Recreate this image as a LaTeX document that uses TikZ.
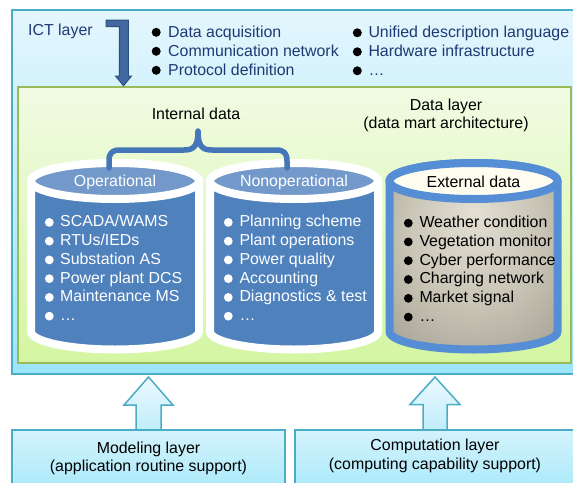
\documentclass[tikz,border=0pt]{standalone}
\usepackage{fontspec}
\setmainfont{Liberation Sans}
\definecolor{ictline}{HTML}{4BACC6}
\definecolor{icttop}{HTML}{E4F6FD}
\definecolor{ictbot}{HTML}{9BE5FA}
\definecolor{datatop}{HTML}{F1FBE4}
\definecolor{databot}{HTML}{D4F6A2}
\definecolor{dataline}{HTML}{9BBB59}
\definecolor{ictnavy}{HTML}{1F3A73}
\definecolor{cylbody}{HTML}{4F81BD}
\definecolor{cyltop}{HTML}{7399CB}
\definecolor{extline}{HTML}{558ED5}
\definecolor{exttop}{HTML}{FFFDF0}
\definecolor{extin}{HTML}{E3DFD3}
\definecolor{extmid}{HTML}{C8C4B6}
\definecolor{extout}{HTML}{8C887B}
\definecolor{bentfill}{HTML}{4169A0}
\definecolor{bentline}{HTML}{2B4F83}
\definecolor{bracecol}{HTML}{4577B8}
\definecolor{boxtop}{HTML}{D3F3FC}
\definecolor{boxbot}{HTML}{A9E9FA}
\definecolor{arrtop}{HTML}{ECF9FE}
\definecolor{arrbot}{HTML}{C0EDFB}
\pgfdeclareradialshading{extshade}{\pgfpoint{0bp}{12bp}}{color(0bp)=(extin); color(20bp)=(extmid); color(50bp)=(extout)}
\begin{document}
\begin{tikzpicture}[x=1pt,y=-1pt]
\tikzset{
  txt/.style={inner sep=0pt, font=\fontsize{15.9}{19}\selectfont},
  ictitem/.style={txt, anchor=base west, text=ictnavy},
  whiteitem/.style={txt, anchor=base west, text=white},
  blackitem/.style={txt, anchor=base west, text=black},
  lbl/.style={txt, anchor=base},
  layerbox/.style={draw=ictline, line width=1.5pt, top color=boxtop, bottom color=boxbot},
  uparrow/.style={draw=ictline, line width=1.5pt, top color=arrtop, bottom color=arrbot, line join=miter},
  cylline/.style={line width=8pt},
}
\useasboundingbox (0,0) rectangle (573,482);
\begin{scope}
\clip (0,0) rectangle (573,482);
% ICT layer
\path[draw=ictline, line width=2pt, top color=icttop, bottom color=ictbot] (12,10) rectangle (590,374);
% Data layer
\path[draw=dataline, line width=2.5pt, top color=datatop, bottom color=databot] (18,87) rectangle (571,363);
% bent arrow
\filldraw[fill=bentfill, draw=bentline, line width=1pt, line join=miter]
  (106,20) -- (128.3,20) -- (128.3,76) -- (131.5,76) -- (123.5,85.7) -- (115.5,76) -- (119.3,76) -- (119.3,26.7) -- (106,26.7) -- cycle;
\node[txt, anchor=base west, text=ictnavy] (ict) at (28,35) {ICT layer};
\foreach \t [count=\i] in {Data acquisition, Communication network, Protocol definition}{
  \pgfmathsetmacro\yy{37+19*(\i-1)}
  \fill[black] (156.2,\yy-4.7) circle (4.5pt);
  \node[ictitem] (icta\i) at (168,\yy) {\t};
}
\foreach \t [count=\i] in {Unified description language, Hardware infrastructure, …}{
  \pgfmathsetmacro\yy{37.5+19*(\i-1)}
  \fill[black] (357.3,\yy-4.7) circle (4.5pt);
  \node[ictitem] (ictb\i) at (368.3,\yy) {\t};
}
% Data layer labels
\node[lbl] (internal) at (196,119) {Internal data};
\node[lbl] (dlayer) at (446,110.7) {Data layer};
\node[lbl] (dmart) at (446,128.3) {(data mart architecture)};
% Operational cylinder
\path[draw=white, cylline, fill=cylbody] (31,181) -- (31,331.5) arc[start angle=180, end angle=360, x radius=84pt, y radius=18pt] -- (199,181) arc[start angle=0, end angle=180, x radius=84pt, y radius=18pt] -- cycle;
\path[draw=white, cylline, fill=cyltop] (115,181) ellipse [x radius=84pt, y radius=18pt];
% Nonoperational cylinder
\path[draw=white, cylline, fill=cylbody] (210,181) -- (210,331.5) arc[start angle=180, end angle=360, x radius=84pt, y radius=18pt] -- (378,181) arc[start angle=0, end angle=180, x radius=84pt, y radius=18pt] -- cycle;
\path[draw=white, cylline, fill=cyltop] (294,181) ellipse [x radius=84pt, y radius=18pt];
% External cylinder
\path[draw=extline, cylline, shading=extshade] (389.5,181) -- (389.5,331.5) arc[start angle=180, end angle=360, x radius=84pt, y radius=18pt] -- (557.5,181) arc[start angle=0, end angle=180, x radius=84pt, y radius=18pt] -- cycle;
\path[draw=extline, cylline, fill=exttop] (473.5,181) ellipse [x radius=84pt, y radius=18pt];
% brace
\draw[bracecol, line width=5.5pt, line cap=round, line join=round]
  (109,168) -- (109,161) .. controls (109,153) and (112,150) .. (120,150) -- (184,150)
  .. controls (194,150) and (198,146) .. (198,131)
  .. controls (198,146) and (202,150) .. (212,150) -- (276,150)
  .. controls (284,150) and (287,153) .. (287,161) -- (287,168);
% cylinder labels
\node[lbl, text=white] (opl) at (115,186.5) {Operational};
\node[lbl, text=white] (nopl) at (294,186.5) {Nonoperational};
\node[lbl, text=black] (extl) at (473.5,187) {External data};
% lists
\foreach \t [count=\i] in {SCADA/WAMS, RTUs/IEDs, Substation AS, Power plant DCS, Maintenance MS, …}{
  \pgfmathsetmacro\yy{226.8+18.75*(\i-1)}
  \fill[white] (49.3,\yy-4.4) circle (4.4pt);
  \node[whiteitem] (op\i) at (60,\yy) {\t};
}
\foreach \t [count=\i] in {Planning scheme, Plant operations, Power quality, Accounting, Diagnostics \& test, …}{
  \pgfmathsetmacro\yy{226.8+18.75*(\i-1)}
  \fill[white] (228.3,\yy-4.4) circle (4.4pt);
  \node[whiteitem] (nop\i) at (239.3,\yy) {\t};
}
\foreach \t [count=\i] in {Weather condition, Vegetation monitor, Cyber performance, Charging network, Market signal, …}{
  \pgfmathsetmacro\yy{227.5+18.8*(\i-1)}
  \fill[black] (408.3,\yy-4.4) circle (4.4pt);
  \node[blackitem] (ext\i) at (419.3,\yy) {\t};
}
% up arrows
\path[uparrow] (148.5,377) -- (173,405) -- (161,405) -- (161,430) -- (136,430) -- (136,405) -- (124,405) -- cycle;
\path[uparrow] (435,377) -- (460,404.5) -- (447,404.5) -- (447,430) -- (423,430) -- (423,404.5) -- (410,404.5) -- cycle;
% bottom boxes
\path[layerbox] (12,430) rectangle (285,492);
\path[layerbox] (295,430) rectangle (590,492);
\node[lbl] (model1) at (148.5,453.7) {Modeling layer};
\node[lbl] (model2) at (148.5,471) {(application routine support)};
\node[lbl] (comp1) at (435,450.3) {Computation layer};
\node[lbl] (comp2) at (435,469.3) {(computing capability support)};
\end{scope}
\end{tikzpicture}
\end{document}
